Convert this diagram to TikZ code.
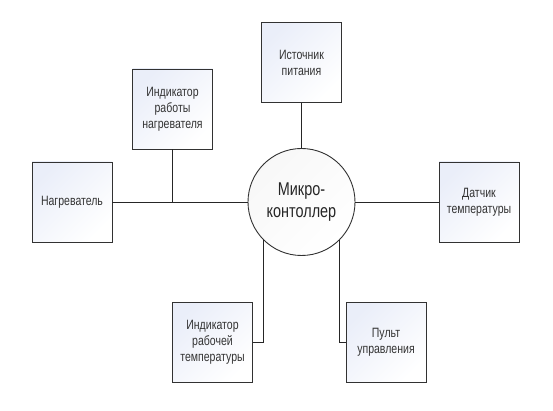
\documentclass[tikz,border=0pt]{standalone}
\usepackage{fontspec}
\setmainfont[FakeStretch=0.78]{Liberation Sans}
\usepackage{tikz}
\usetikzlibrary{calc}

\definecolor{boxtint}{RGB}{234,238,249}
\definecolor{edgegray}{RGB}{50,50,50}

\begin{document}
\begin{tikzpicture}[x=1pt,y=-1pt,
  unit/.style={draw=edgegray,line width=0.9pt,minimum width=80pt,minimum height=80pt,
    inner sep=0pt,align=center,top color=boxtint,bottom color=white,shading angle=45,
    font=\fontsize{13.5}{16}\selectfont,text=black!80},
  hub/.style={circle,draw=edgegray,line width=0.9pt,minimum size=107pt,inner sep=0pt,
    align=center,top color=black!3,bottom color=white,shading angle=45,
    font=\fontsize{18.5}{22}\selectfont,text=black!85},
  wire/.style={line width=0.8pt,black!85}]
\useasboundingbox (0,0) rectangle (553,411);

\node[hub] (mc) at (301.5,202) {Микро-\\контоллер};

\node[unit] (src)  at (301.5,62.5) {Источник\\питания};
\node[unit] (indh) at (172.5,109) {Индикатор\\работы\\нагревателя};
\node[unit] (heat) at (72,202) {Нагреватель};
\node[unit] (sens) at (479,202) {Датчик\\температуры};
\node[unit] (indt) at (212.5,342) {Индикатор\\рабочей\\температуры};
\node[unit] (pult) at (386,342) {Пульт\\управления};

\draw[wire] (heat) -- (mc);
\draw[wire] (indh) -- (indh |- heat);
\draw[wire] (src) -- (mc);
\draw[wire] (mc) -- (sens);
\draw[wire] (mc.225) |- (indt.east);
\draw[wire] (mc.315) |- (pult.west);

\end{tikzpicture}
\end{document}
